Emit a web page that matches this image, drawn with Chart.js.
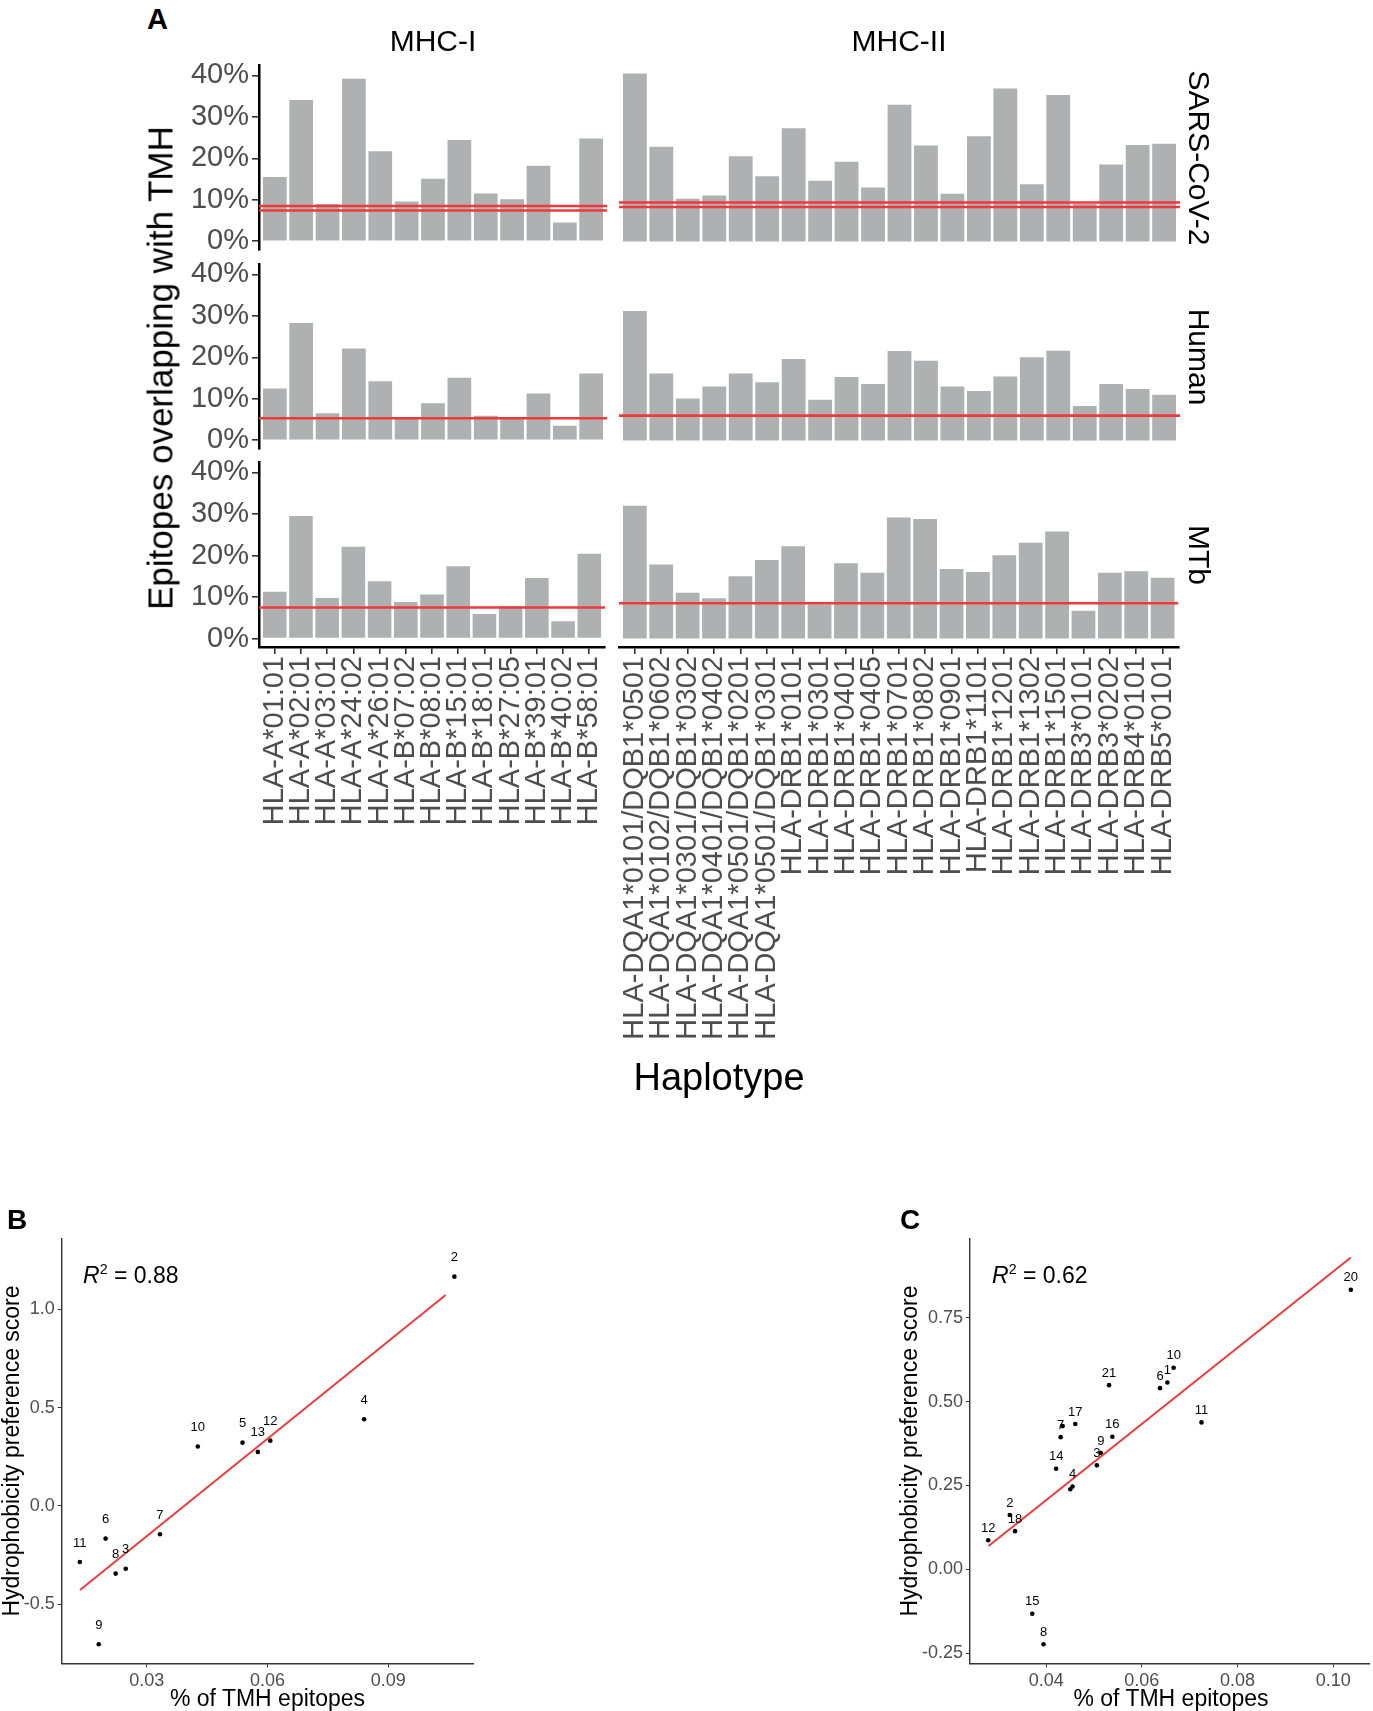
<!DOCTYPE html>
<html>
<head>
<meta charset="utf-8">
<script src="https://cdn.jsdelivr.net/npm/chart.js@4.4.1/dist/chart.umd.min.js"></script>
<style>
html,body{margin:0;padding:0;background:#fff;}
#fig{position:relative;width:1373px;height:1711px;overflow:hidden;background:#fff;font-family:"Liberation Sans",Arial,Helvetica,sans-serif;}
#fig canvas{position:absolute;}
.t{position:absolute;white-space:nowrap;line-height:1;color:#000;}
.t sup{font-size:0.62em;line-height:0;vertical-align:0.62em;}
</style>
</head>
<body>
<div id="fig"></div>
<script>
// ---------------- DATA ----------------
const mhc1Alleles = ["HLA-A*01:01","HLA-A*02:01","HLA-A*03:01","HLA-A*24:02","HLA-A*26:01","HLA-B*07:02","HLA-B*08:01","HLA-B*15:01","HLA-B*18:01","HLA-B*27:05","HLA-B*39:01","HLA-B*40:02","HLA-B*58:01"];
const mhc2Alleles = ["HLA-DQA1*0101/DQB1*0501","HLA-DQA1*0102/DQB1*0602","HLA-DQA1*0301/DQB1*0302","HLA-DQA1*0401/DQB1*0402","HLA-DQA1*0501/DQB1*0201","HLA-DQA1*0501/DQB1*0301","HLA-DRB1*0101","HLA-DRB1*0301","HLA-DRB1*0401","HLA-DRB1*0405","HLA-DRB1*0701","HLA-DRB1*0802","HLA-DRB1*0901","HLA-DRB1*1101","HLA-DRB1*1201","HLA-DRB1*1302","HLA-DRB1*1501","HLA-DRB3*0101","HLA-DRB3*0202","HLA-DRB4*0101","HLA-DRB5*0101"];
const organisms = ["SARS-CoV-2","Human","MTb"];
const mhcClasses = ["MHC-I","MHC-II"];

// % of epitopes overlapping with TMH
const sarsMHC1  = [15.5, 34.1, 9.0, 39.2, 21.7, 9.6, 15.1, 24.4, 11.5, 10.1, 18.2, 4.5, 24.8];
const sarsMHC2  = [40.4, 22.8, 10.3, 11.1, 20.5, 15.7, 27.2, 14.6, 19.2, 13.0, 32.9, 23.1, 11.5, 25.3, 36.8, 13.8, 35.2, 9.0, 18.5, 23.2, 23.5];
const humanMHC1 = [12.5, 28.3, 6.5, 22.1, 14.2, 5.5, 8.9, 15.1, 5.9, 5.3, 11.3, 3.5, 16.1];
const humanMHC2 = [31.1, 16.1, 10.1, 13.0, 16.1, 14.0, 19.6, 9.8, 15.3, 13.6, 21.5, 19.2, 13.0, 11.9, 15.4, 20.0, 21.6, 8.3, 13.6, 12.4, 11.0];
const mtbMHC1   = [11.3, 29.5, 9.8, 22.1, 13.8, 8.8, 10.6, 17.4, 5.9, 7.8, 14.6, 4.2, 20.4];
const mtbMHC2   = [31.9, 17.8, 11.0, 9.7, 15.0, 18.9, 22.2, 8.2, 18.1, 15.8, 29.1, 28.7, 16.7, 16.0, 20.0, 23.0, 25.7, 6.7, 15.8, 16.2, 14.6];

// red reference lines (%)
const sarsRefMHC1  = [8.5, 7.4];
const sarsRefMHC2  = [9.4, 8.3];
const humanRefMHC1 = [5.3];
const humanRefMHC2 = [6.0];
const mtbRefMHC1   = [7.5];
const mtbRefMHC2   = [8.5];

const barYTicks = [0, 10, 20, 30, 40];

// Panel B (MHC-I)
const bTmh   = [0.1064, 0.0840, 0.0427, 0.0538, 0.0576, 0.0607, 0.0333, 0.0198, 0.0134, 0.0223, 0.0248, 0.0181];
const bHydro = [1.166, 0.441, 0.302, 0.322, 0.275, 0.332, -0.144, -0.166, -0.285, -0.344, -0.319, -0.703];
const bIds   = ["2","4","10","5","13","12","7","6","11","8","3","9"];
const bFitX  = [0.01345, 0.10423];
const bFitY  = [-0.427, 1.073];
const bXTicks = [0.03, 0.06, 0.09];
const bYTicks = [-0.5, 0.0, 0.5, 1.0];

// Panel C (MHC-II)
const cTmh   = [0.10367, 0.06664, 0.06533, 0.06379, 0.05314, 0.07246, 0.04608, 0.04303, 0.04345, 0.05383, 0.05142, 0.05059, 0.04208, 0.04552, 0.04504, 0.03239, 0.03350, 0.02789, 0.03709, 0.03945];
const cHydro = [0.833, 0.601, 0.557, 0.540, 0.549, 0.438, 0.433, 0.394, 0.427, 0.395, 0.347, 0.310, 0.300, 0.247, 0.239, 0.162, 0.114, 0.087, -0.132, -0.223];
const cIds   = ["20","10","1","6","21","11","17","7","","16","9","3","14","4","","2","18","12","15","8"];
const cFitX  = [0.02796, 0.10367];
const cFitY  = [0.0695, 0.9295];
const cXTicks = [0.04, 0.06, 0.08, 0.10];
const cYTicks = [-0.25, 0.00, 0.25, 0.50, 0.75];

// ---------------- STYLE / LAYOUT ----------------
const FONT = '"Liberation Sans", Arial, Helvetica, sans-serif';
const BAR = '#AEB0B1';
const RED = '#F0393B';
const TICK = '#4D4D4D';
Chart.defaults.font.family = FONT;
Chart.defaults.animation = false;

const fig = document.getElementById('fig');
function makeCanvas(left, top, w, h) {
  const c = document.createElement('canvas');
  c.width = w; c.height = h;
  c.style.left = left + 'px'; c.style.top = top + 'px';
  c.style.width = w + 'px'; c.style.height = h + 'px';
  fig.appendChild(c);
  return c;
}
function text(html, x, y, o) {
  const d = document.createElement('div');
  d.className = 't';
  d.innerHTML = html;
  d.style.left = x + 'px';
  d.style.top = y + 'px';
  d.style.fontSize = o.size + 'px';
  if (o.weight) d.style.fontWeight = o.weight;
  if (o.color) d.style.color = o.color;
  const tx = o.anchor === 'left' ? '0' : '-50%';
  d.style.transform = `translate(${tx},-50%) rotate(${o.rot || 0}deg)`;
  fig.appendChild(d);
}

const L = {
  colLeft: [259, 619], colWidth: [348, 561],
  rowTop: [65, 264, 462], rowH: 185,
  pad: 20, yAxisW: 72, xAxisH: 410,
  yMin: -2.02, yMax: 42.42,
  tickFont: 29
};

function facet(r, c, cats, vals, refs) {
  const n = cats.length;
  const showY = c === 0, showX = r === 2;
  const leftExtra = L.pad + (showY ? L.yAxisW : 0);
  const w = leftExtra + L.colWidth[c] + L.pad;
  const h = L.pad + L.rowH + (showX ? L.xAxisH : 0) + L.pad;
  const cv = makeCanvas(L.colLeft[c] - leftExtra, L.rowTop[r] - L.pad, w, h);
  const tickVals = cats.map((_, i) => i + 1);
  const datasets = refs.map(v => ({
    type: 'line', data: [{x: 0.4, y: v}, {x: n + 0.6, y: v}],
    borderColor: RED, borderWidth: 2.6, pointRadius: 0, order: 0
  }));
  datasets.push({
    type: 'bar', data: vals.map((v, i) => ({x: i + 1, y: v})),
    backgroundColor: BAR, borderWidth: 0, barPercentage: 0.9, categoryPercentage: 1.0, order: 1
  });
  new Chart(cv, {
    type: 'bar',
    data: {datasets},
    options: {
      responsive: false, animation: false,
      layout: {padding: L.pad},
      plugins: {legend: {display: false}, tooltip: {enabled: false}},
      scales: {
        x: {
          type: 'linear', min: 0.4, max: n + 0.6, offset: false, display: showX,
          afterBuildTicks: s => { s.ticks = tickVals.map(v => ({value: v})); },
          afterFit: s => { if (showX) s.height = L.xAxisH; },
          ticks: {autoSkip: false, minRotation: 90, maxRotation: 90, color: TICK, font: {size: L.tickFont}, padding: 2,
                  callback: v => cats[Math.round(v) - 1]},
          grid: {display: true, offset: false, drawOnChartArea: false, drawTicks: true, tickLength: 7, color: '#333', lineWidth: 1.6},
          border: {display: true, color: '#000', width: 2.5}
        },
        y: {
          type: 'linear', min: L.yMin, max: L.yMax, display: showY,
          afterBuildTicks: s => { s.ticks = barYTicks.map(v => ({value: v})); },
          afterFit: s => { if (showY) s.width = L.yAxisW; },
          ticks: {color: TICK, font: {size: L.tickFont}, padding: 3, callback: v => v + '%'},
          grid: {display: true, drawOnChartArea: false, drawTicks: true, tickLength: 7, color: '#333', lineWidth: 1.6},
          border: {display: true, color: '#000', width: 2.5}
        }
      }
    }
  });
}

facet(0, 0, mhc1Alleles, sarsMHC1, sarsRefMHC1);
facet(0, 1, mhc2Alleles, sarsMHC2, sarsRefMHC2);
facet(1, 0, mhc1Alleles, humanMHC1, humanRefMHC1);
facet(1, 1, mhc2Alleles, humanMHC2, humanRefMHC2);
facet(2, 0, mhc1Alleles, mtbMHC1, mtbRefMHC1);
facet(2, 1, mhc2Alleles, mtbMHC2, mtbRefMHC2);

// point label plugin
const pointLabels = {
  id: 'pointLabels',
  afterDatasetsDraw(chart, args, opts) {
    const ctx = chart.ctx;
    chart.data.datasets.forEach((ds, i) => {
      if (!ds.pointLabels) return;
      const meta = chart.getDatasetMeta(i);
      ctx.save();
      ctx.font = `${opts.size || 13}px ${FONT}`;
      ctx.fillStyle = '#000';
      ctx.textAlign = 'center';
      ctx.textBaseline = 'middle';
      meta.data.forEach((el, j) => {
        const t = ds.pointLabels[j];
        if (t) ctx.fillText(t, el.x, el.y - opts.offset);
      });
      ctx.restore();
    });
  }
};

function scatter(o) {
  const cv = makeCanvas(o.left, o.top, o.w, o.h);
  new Chart(cv, {
    type: 'scatter',
    data: {
      datasets: [
        {type: 'line', data: o.fitX.map((x, i) => ({x, y: o.fitY[i]})), borderColor: RED, borderWidth: 2, pointRadius: 0, order: 0},
        {type: 'scatter', data: o.xs.map((x, i) => ({x, y: o.ys[i]})), pointLabels: o.ids,
         backgroundColor: '#000', borderWidth: 0, pointRadius: 2.3, order: 1}
      ]
    },
    options: {
      responsive: false, animation: false,
      layout: {padding: o.padding},
      plugins: {legend: {display: false}, tooltip: {enabled: false}, pointLabels: {offset: o.labelOffset, size: 13}},
      scales: {
        x: {
          type: 'linear', min: o.xMin, max: o.xMax,
          afterBuildTicks: s => { s.ticks = o.xTicks.map(v => ({value: v})); },
          afterFit: s => { s.height = 30; },
          ticks: {color: TICK, font: {size: 18}, padding: 3, callback: v => v.toFixed(2)},
          grid: {display: true, drawOnChartArea: false, drawTicks: true, tickLength: 4, color: '#333', lineWidth: 1},
          border: {display: true, color: '#333', width: 1.4}
        },
        y: {
          type: 'linear', min: o.yMin, max: o.yMax,
          afterBuildTicks: s => { s.ticks = o.yTicks.map(v => ({value: v})); },
          afterFit: s => { s.width = o.yAxisW; },
          ticks: {color: TICK, font: {size: 18}, padding: 3, callback: v => v.toFixed(o.yDec)},
          grid: {display: true, drawOnChartArea: false, drawTicks: true, tickLength: 4, color: '#333', lineWidth: 1},
          border: {display: true, color: '#333', width: 1.4}
        }
      }
    },
    plugins: [pointLabels]
  });
}

scatter({left: 0, top: 1190, w: 500, h: 510, padding: {left: 16.7, top: 48.3, right: 26.7, bottom: 6.7}, yAxisW: 45,
  xs: bTmh, ys: bHydro, ids: bIds, fitX: bFitX, fitY: bFitY,
  xMin: 0.0089, xMax: 0.1111, yMin: -0.80, yMax: 1.361, xTicks: bXTicks, yTicks: bYTicks, yDec: 1, labelOffset: 19});
scatter({left: 880, top: 1190, w: 493, h: 510, padding: {left: 40, top: 48.3, right: 1.3, bottom: 6.7}, yAxisW: 50,
  xs: cTmh, ys: cHydro, ids: cIds, fitX: cFitX, fitY: cFitY,
  xMin: 0.02408, xMax: 0.10747, yMin: -0.2798, yMax: 0.9865, xTicks: cXTicks, yTicks: cYTicks, yDec: 2, labelOffset: 12});

// ---------------- TEXT ----------------
text('A', 147, 19, {size: 29, weight: 'bold', anchor: 'left'});
text(mhcClasses[0], 433, 41, {size: 30});
text(mhcClasses[1], 899, 41, {size: 30});
const rowMid = L.rowTop.map(t => t + L.rowH / 2);
organisms.forEach((o, i) => text(o, 1199, rowMid[i], {size: 30, rot: 90}));
text('Epitopes overlapping with TMH', 160, 368, {size: 35, rot: -90});
text('Haplotype', 719, 1077, {size: 38});

text('B', 7, 1220, {size: 28, weight: 'bold', anchor: 'left'});
text('C', 900, 1220, {size: 28, weight: 'bold', anchor: 'left'});
text('Hydrophobicity preference score', 10.5, 1451, {size: 23, rot: -90});
text('Hydrophobicity preference score', 909, 1451, {size: 23, rot: -90});
text('% of TMH epitopes', 267.5, 1698, {size: 23});
text('% of TMH epitopes', 1171, 1698, {size: 23});
text('<i>R</i><sup>2</sup> = 0.88', 83, 1275, {size: 23, anchor: 'left'});
text('<i>R</i><sup>2</sup> = 0.62', 992, 1275, {size: 23, anchor: 'left'});
</script>
</body>
</html>
